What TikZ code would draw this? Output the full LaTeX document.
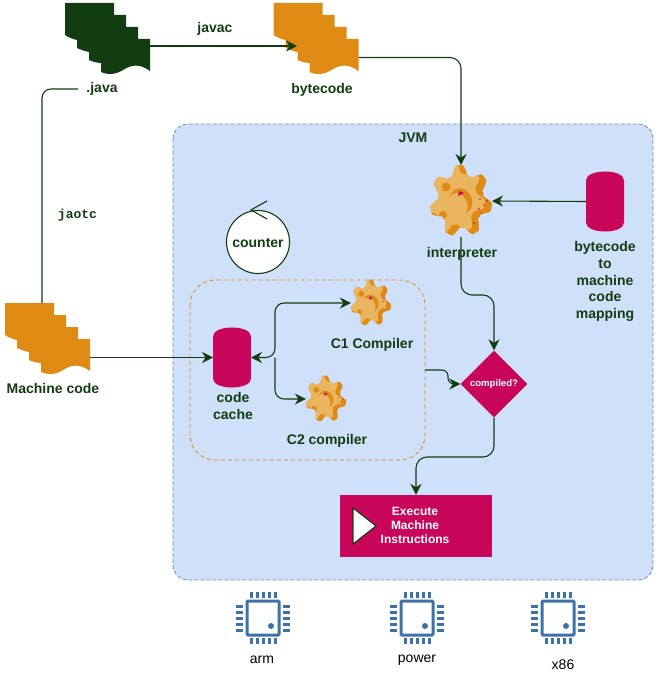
\documentclass[tikz,border=0pt]{standalone}
\usepackage{fontspec}
\setmainfont{Liberation Sans}
\setmonofont{Liberation Mono}
\usetikzlibrary{arrows.meta,shapes.geometric}

\definecolor{darkleaf}{HTML}{123D10}
\definecolor{amber}{HTML}{DF8A12}
\definecolor{paleamber}{HTML}{E9B55E}
\definecolor{crimson}{HTML}{C8075A}
\definecolor{jvmblue}{HTML}{CFE0FA}
\definecolor{jvmedge}{HTML}{6C8EBF}
\definecolor{chipblue}{HTML}{3E71A8}

% outline of a gear, 36 high and 31 wide from its centre
\newcommand{\gearoutline}[2]{%
  plot[domain=0:360, samples=240, variable=\t]
  ({#1+31*(0.87+0.13*max(-1,min(1,1.4*sin(7*\t+20))))*cos(\t)},
   {#2+36*(0.87+0.13*max(-1,min(1,1.4*sin(7*\t+20))))*sin(\t)}) -- cycle}

\tikzset{
  flow/.style={draw=darkleaf, line width=1.1pt, -{Stealth[length=11pt,width=11pt]}},
  plainflow/.style={draw=darkleaf, line width=1.1pt},
  lbl/.style={text=darkleaf, font=\fontsize{14}{16.7}\selectfont\bfseries, align=center, inner sep=0pt},
  whitelbl/.style={text=white, font=\fontsize{12}{14.2}\selectfont\bfseries, align=center, inner sep=0pt},
  pics/store/.style={code={
    \fill[crimson] (-19,-21) .. controls (-19,-33) and (19,-33) .. (19,-21) -- (19,21)
      .. controls (19,33) and (-19,33) .. (-19,21) -- cycle;
    \coordinate (-west) at (-19,0);
    \coordinate (-east) at (19,0);
  }},
  pics/docstack/.style={code={
    \fill[pic actions] (0,0) -- (49,0) -- (49,12) -- (61,12) -- (61,24) -- (73,24) -- (73,36) -- (85,36) -- (85,68)
      .. controls (74,60) and (66,62) .. (58,67) .. controls (50,72) and (42,72) .. (36,69)
      -- (36,60) .. controls (31,60) and (26,58) .. (24,57) -- (24,49) .. controls (19,48) and (14,46) .. (12,45)
      -- (12,37) .. controls (7,36) and (3,34) .. (0,32) -- cycle;
    \coordinate (-in) at (23.5,43);
    \coordinate (-out) at (85,43);
    \coordinate (-low) at (85,54.5);
    \coordinate (-top) at (37,0);
  }},
  pics/gear/.style={code={
    \begin{scope}
      \clip \gearoutline{0}{0};
      \fill[amber] (-40,-40) rectangle (40,40);
      \fill[paleamber] \gearoutline{-7}{-3};
      \fill[amber, rotate=25] (0,0) ellipse (11 and 13);
      \fill[paleamber, rotate=25] (-4,2) ellipse (9 and 12);
      \fill[amber] (-15,-14) circle (4.5);
      \fill[amber] (-18,14) circle (4);
      \fill[crimson] (-2,-10) -- (3,-8) -- (-3,-5) -- cycle;
      \foreach \dx/\dy in {22/-8,25/-4,19/-2,26/0,23/4,18/8,21/13,13/22}
        \fill[crimson] (\dx,\dy) circle (0.8);
    \end{scope}
    \coordinate (-north) at (0,-36);
    \coordinate (-south) at (0,36);
    \coordinate (-east) at (31,0);
    \coordinate (-west) at (-31,0);
  }},
  pics/chip/.style={code={
    \draw[chipblue, line width=3pt, rounded corners=1pt] (-16,-17) rectangle (16,17);
    \fill[chipblue] (8,8) circle (3);
    \foreach \p in {-12,-6,0,6,12}{
      \fill[chipblue] (\p-1.5,-26) rectangle (\p+1.5,-20);
      \fill[chipblue] (\p-1.5,20) rectangle (\p+1.5,26);
      \fill[chipblue] (-27,\p-1.5) rectangle (-20,\p+1.5);
      \fill[chipblue] (20,\p-1.5) rectangle (27,\p+1.5);
    }
  }}
}

\begin{document}
\begin{tikzpicture}[x=1pt,y=-1pt]
\useasboundingbox (0,0) rectangle (658,676);

% JVM area and the dashed group round the compilers
\draw[jvmedge, fill=jvmblue, line width=0.8pt, dash pattern=on 4pt off 2pt, rounded corners=15pt] (173,124) rectangle (653,580);
\draw[amber, line width=0.8pt, dash pattern=on 4pt off 3pt, rounded corners=25pt] (190,280) rectangle (425,460);
\coordinate (groupexit) at (425,370);

% source, bytecode, machine code
\pic[fill=darkleaf] (java) at (65,3) {docstack};
\pic[fill=amber] (bytecode) at (273.5,3) {docstack};
\pic[fill=amber] (mcode) at (5,303) {docstack};
\node[lbl, inner xsep=8pt] (javalbl) at (102,89) {.java};

% gears
\pic (interp) at (461,201) {gear};
\pic[scale=0.65] (cone) at (371,303) {gear};
\pic[scale=0.65] (ctwo) at (326,399) {gear};

% stores, decision, counter
\pic (mapping) at (605,201.5) {store};
\pic (cache) at (232,357.5) {store};
\node[diamond, fill=crimson, minimum width=67pt, minimum height=67pt, inner sep=0pt] (compiled) at (494,384) {};
\node[circle, draw=darkleaf, line width=1.1pt, fill=white, minimum size=63pt, inner sep=0pt] (counter) at (258,242) {};
\draw[plainflow] ([shift={(9,-9)}]counter.north) -- ([shift={(-7,0)}]counter.north) -- ([shift={(9,9)}]counter.north);

% execute box
\node[fill=crimson, minimum width=152pt, minimum height=62pt, inner sep=0pt] (execute) at (416,526) {};
\draw[darkleaf, line width=1.1pt, fill=white] (353,508) -- (376,526) -- (353,544) -- cycle;

% connectors
\coordinate (cachejoin) at (275,357.5);
\draw[flow] (java-out) -- (bytecode-in);
\draw[flow, rounded corners=11pt] (bytecode-low) -| (interp-north);
\draw[plainflow, rounded corners=9pt] (javalbl.west) -| (mcode-top);
\draw[flow] (mcode-low) -- (cache-west);
\draw[flow] (mapping-west) -- (interp-east);
\draw[flow, rounded corners=11pt] (interp-south) -- (461,295) -| (compiled.north);
\draw[flow, {Stealth[length=11pt,width=11pt]}-{Stealth[length=11pt,width=11pt]}, rounded corners=9pt] (cache-east) -- (cachejoin) |- (cone-west);
\draw[flow, rounded corners=9pt] (cachejoin) |- (ctwo-west);
\draw[flow, rounded corners=6pt] (groupexit) -- (448,370) |- (compiled.west);
\draw[flow, rounded corners=11pt] (compiled.south) -- (494,457) -| (execute.north);

% chips
\foreach \x/\lx/\ty/\name in {263/262/660/arm,417/417/660/power,558/563/665/x86}{
  \pic at (\x,618) {chip};
  \node[text=black, font=\fontsize{14}{16}\selectfont, inner sep=0pt] at (\lx,\ty) {\name};
}

% labels
\node[lbl] (javaclbl) at (215,29) {javac};
\node[lbl, font=\fontsize{13}{16}\selectfont\ttfamily\bfseries] (jaotclbl) at (77.5,215.5) {jaotc};
\node[lbl] (bytecodelbl) at (322,90) {bytecode};
\node[lbl] (jvmlbl) at (413,138) {JVM};
\node[lbl] (counterlbl) at (258,243) {counter};
\node[lbl] (interplbl) at (462,254) {interpreter};
\node[lbl] (mappinglbl) at (605,281.5) {bytecode\\to\\machine\\code\\mapping};
\node[lbl] (conelbl) at (372,345) {C1 Compiler};
\node[lbl] (cachelbl) at (233,406) {code\\cache};
\node[lbl] (ctwolbl) at (327,441) {C2 compiler};
\node[lbl] (mcodelbl) at (53,388.5) {Machine code};
\node[whitelbl, font=\fontsize{9.6}{11}\selectfont\bfseries] (compiledlbl) at (compiled) {compiled?};
\node[whitelbl] (executelbl) at (415,525.5) {Execute\\Machine\\Instructions};

\end{tikzpicture}
\end{document}
